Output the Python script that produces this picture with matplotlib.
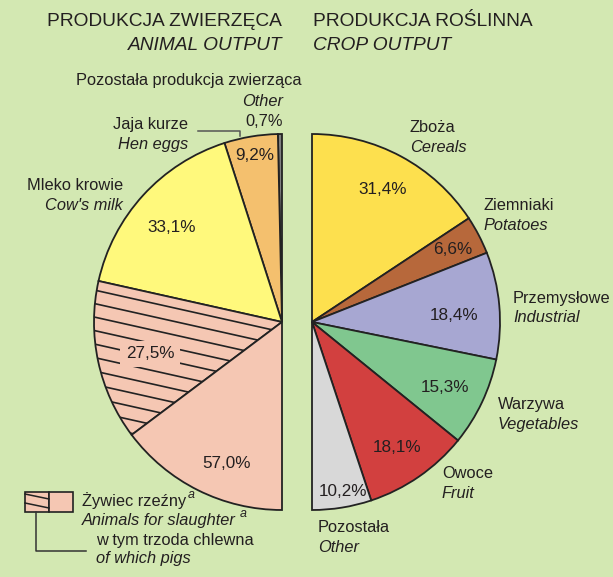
import numpy as np
import matplotlib
matplotlib.use("Agg")
import matplotlib.pyplot as plt
from matplotlib import font_manager
from matplotlib.patches import Rectangle

# ---------------- data ----------------
animal_labels_pl = ["Pozostała produkcja zwierząca", "Jaja kurze", "Mleko krowie", "Żywiec rzeźny"]
animal_labels_en = ["Other", "Hen eggs", "Cow's milk", "Animals for slaughter"]
animal_values = [0.7, 9.2, 33.1, 57.0]
pigs_value = 27.5

crop_labels_pl = ["Zboża", "Ziemniaki", "Przemysłowe", "Warzywa", "Owoce", "Pozostała"]
crop_labels_en = ["Cereals", "Potatoes", "Industrial", "Vegetables", "Fruit", "Other"]
crop_values = [31.4, 6.6, 18.4, 15.3, 18.1, 10.2]

def pct(v):
    return f"{v:.1f}".replace(".", ",") + "%"

# ---------------- style ----------------
W, H = 613, 577
BG = "#d3e8b2"
animal_colors = ["#808080", "#f4c06e", "#fff97c", "#f5c7b3"]
crop_colors = ["#fde04e", "#b7683b", "#a7a7d2", "#80c78f", "#d2403f", "#d8d8d8"]
EDGE = "#222222"
TXT = "#231f20"

avail = {f.name for f in font_manager.fontManager.ttflist}
narrow = "Liberation Sans Narrow" if "Liberation Sans Narrow" in avail else "Liberation Sans"
FAM = [narrow, "DejaVu Sans"]
plt.rcParams["font.family"] = FAM

fig = plt.figure(figsize=(W / 100, H / 100), dpi=100, facecolor=BG)
ax = fig.add_axes([0, 0, 1, 1])
ax.set_facecolor(BG)

def Y(y):
    return H - y

R = 188
cL = (282, Y(322))
cR = (312, Y(322))
wp = dict(edgecolor=EDGE, linewidth=1.3)

# left half (animal): 100% = 180 deg, dummy half hidden
slaughter = animal_values[3]
left_vals = animal_values[:3] + [pigs_value, slaughter - pigs_value, sum(animal_values)]
left_cols = animal_colors[:3] + [animal_colors[3], animal_colors[3], "none"]
wl, _ = ax.pie(left_vals, colors=left_cols, startangle=90, counterclock=True,
               center=cL, radius=R, wedgeprops=wp)
wl[-1].set_visible(False)

# right half (crop)
right_vals = crop_values + [sum(crop_values)]
right_cols = crop_colors + ["none"]
wr, _ = ax.pie(right_vals, colors=right_cols, startangle=90, counterclock=False,
               center=cR, radius=R, wedgeprops=wp)
wr[-1].set_visible(False)

# hatch lines in pigs wedge: parallel to milk boundary
pig_w = wl[3]
th = np.deg2rad(pig_w.theta1)
d = np.array([np.cos(th), np.sin(th)])
n = np.array([np.sin(th), -np.cos(th)])
if n[1] > 0:
    n = -n
spacing = 13.5
for k in range(14):
    off = 10 + k * spacing
    p0 = np.array(cL) + n * off * abs(np.cos(th)) - d * 50
    p1 = p0 + d * 400
    ln, = ax.plot([p0[0], p1[0]], [p0[1], p1[1]], color=EDGE, lw=1.2, zorder=2)
    ln.set_clip_path(pig_w)

ax.set_xlim(0, W)
ax.set_ylim(0, H)
ax.set_aspect("equal")
ax.axis("off")

LS = 11.8  # label size
PS = 12.3  # percent size
HS = 13.8  # header size

def T(x, y, s, size=LS, ha="left", italic=False, **kw):
    return ax.text(x, Y(y), s, fontsize=size, ha=ha, va="center", color=TXT,
                   style="italic" if italic else "normal", zorder=5, **kw)

# headers
T(282, 21, "PRODUKCJA ZWIERZĘCA", size=HS, ha="right")
T(282, 46, "ANIMAL OUTPUT", size=HS, ha="right", italic=True)
T(313, 21, "PRODUKCJA ROŚLINNA", size=HS)
T(313, 46, "CROP OUTPUT", size=HS, italic=True)

# animal labels
T(302, 81, animal_labels_pl[0], ha="right")
T(283, 101, animal_labels_en[0], ha="right", italic=True)
T(283, 121, pct(animal_values[0]), ha="right")
T(188, 125, animal_labels_pl[1], ha="right")
T(188, 145, animal_labels_en[1], ha="right", italic=True)
ax.plot([198, 240, 240], [Y(131), Y(131), Y(136)], color="#555555", lw=1.1, zorder=4)
T(123, 186, animal_labels_pl[2], ha="right")
T(123, 206, animal_labels_en[2], ha="right", italic=True)

T(255, 155, pct(animal_values[1]), ha="center", size=PS)
T(172, 227, pct(animal_values[2]), ha="center", size=PS)
T(150, 354, pct(pigs_value), ha="center", size=PS,
  bbox=dict(boxstyle="square,pad=0.35", fc=animal_colors[3], ec="none"))
T(227, 463, pct(slaughter), ha="center", size=PS)

# crop labels
crop_lab_pos = [(410, 128), (484, 205), (513, 298), (498, 405), (442, 474), (318, 528)]
for (x, y), pl, en in zip(crop_lab_pos, crop_labels_pl, crop_labels_en):
    T(x, y, pl)
    T(x, y + 20, en, italic=True)
crop_pct_pos = [(383, 189), (453, 250), (454, 315), (445, 387), (397, 447), (343, 491)]
for (x, y), v in zip(crop_pct_pos, crop_values):
    T(x, y, pct(v), ha="center", size=PS)

# legend
ax.add_patch(Rectangle((25, Y(512)), 24, 20, fc=animal_colors[3], ec=EDGE, lw=1.2, zorder=4))
ax.add_patch(Rectangle((49, Y(512)), 24, 20, fc=animal_colors[3], ec=EDGE, lw=1.2, zorder=4))
ax.plot([25, 49], [Y(494), Y(499)], color=EDGE, lw=1.1, zorder=5)
ax.plot([25, 49], [Y(503), Y(508)], color=EDGE, lw=1.1, zorder=5)
ax.plot([36, 36, 86], [Y(512), Y(551), Y(551)], color="#333333", lw=1.1, zorder=4)

t1 = T(82, 501, animal_labels_pl[3])
t2 = T(82, 520, animal_labels_en[3], italic=True)
T(96, 540, "w tym trzoda chlewna")
T(96, 558, "of which pigs", italic=True)
fig.canvas.draw()
inv = ax.transData.inverted()
for t, gap in ((t1, 1), (t2, 4)):
    bb = t.get_window_extent()
    x_end = inv.transform((bb.x1, bb.y0))[0]
    y_c = t.get_position()[1]
    ax.text(x_end + gap, y_c + 6, "a", fontsize=9, style="italic", ha="left",
            va="center", color=TXT, zorder=5)

fig.savefig("out.png", dpi=100, facecolor=BG)
